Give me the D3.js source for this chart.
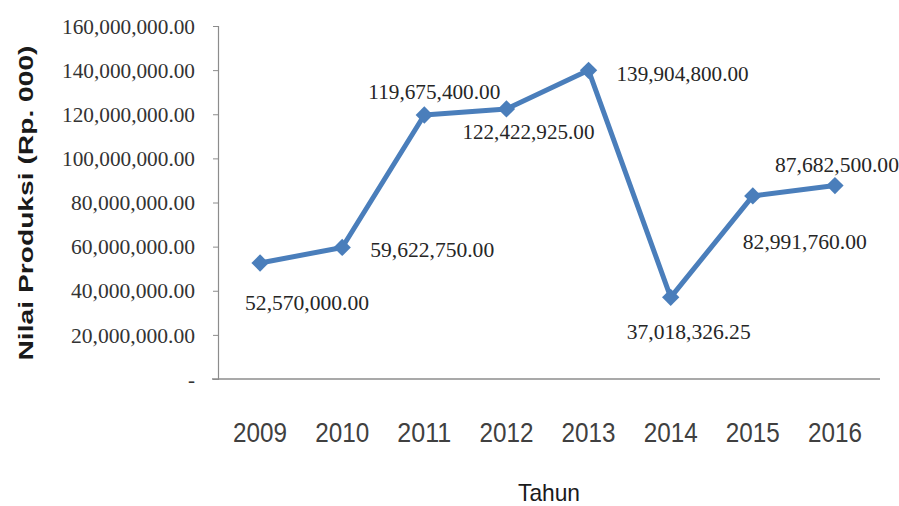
<!DOCTYPE html>
<html>
<head>
<meta charset="utf-8">
<script src="https://cdn.jsdelivr.net/npm/d3@7"></script>
<style>
  html, body { margin: 0; padding: 0; background: #ffffff; }
  svg { display: block; }
</style>
</head>
<body>
<svg id="chart" width="899" height="506"></svg>
<script>
// ---- data ----
const years = ["2009", "2010", "2011", "2012", "2013", "2014", "2015", "2016"];
const values = [52570000.00, 59622750.00, 119675400.00, 122422925.00, 139904800.00, 37018326.25, 82991760.00, 87682500.00];
const yTicks = [0, 20000000, 40000000, 60000000, 80000000, 100000000, 120000000, 140000000, 160000000];
const yTitle = "Nilai Produksi (Rp. 000)";
const xTitle = "Tahun";
// label placement (offset of label start/baseline from its marker)
const labelDx = [-15, 28, -56, -44, 28, -44, -10, -60];
const labelDy = [47, 10, -16, 30, 11, 42, 53, -14];

// ---- layout ----
const svg = d3.select("#chart");
const axisX = 218, yTop = 26, yBottom = 379;
const x = d3.scaleBand().domain(years).range([219, 876]).padding(0);
const y = d3.scaleLinear().domain([0, 160000000]).range([yBottom, yTop]);
const fmt = d3.format(",.2f");
const axisColor = "#8c8c8c";
const lineColor = "#4a7ebb";
const numFont = "'Liberation Serif', 'Times New Roman', serif";
const sansFont = "'Liberation Sans', Arial, sans-serif";

// y axis
const yAxis = d3.axisLeft(y).tickValues(yTicks).tickSize(5).tickPadding(18)
  .tickFormat(d => d === 0 ? "-" : fmt(d));
const gy = svg.append("g").attr("transform", `translate(${axisX},0)`).call(yAxis);
gy.select(".domain").attr("stroke", axisColor).attr("stroke-width", 1.2);
gy.selectAll(".tick line").attr("stroke", axisColor);
gy.selectAll(".tick text")
  .attr("font-family", numFont).attr("font-size", 21).attr("fill", "#333333")
  .attr("dy", "0.34em")
  .each(function(d) {
    if (d !== 0) {
      const n = fmt(d).length;
      d3.select(this).attr("textLength", n === 14 ? 133 : 124).attr("lengthAdjust", "spacingAndGlyphs");
    }
  });

// x axis (line only, labels below)
svg.append("line").attr("x1", 212).attr("x2", 880).attr("y1", yBottom).attr("y2", yBottom)
  .attr("stroke", axisColor).attr("stroke-width", 1.5);
const xAxis = d3.axisBottom(x).tickSize(0).tickPadding(0);
const gx = svg.append("g").attr("transform", `translate(0,${yBottom})`).call(xAxis);
gx.select(".domain").remove();
gx.selectAll(".tick text")
  .attr("font-family", sansFont).attr("font-size", 27).attr("fill", "#404040")
  .attr("y", 63).attr("dy", 0)
  .attr("textLength", 54).attr("lengthAdjust", "spacingAndGlyphs");

// line
const cx = d => x(d) + x.bandwidth() / 2;
const line = d3.line().x((d, i) => cx(years[i])).y(d => y(d));
svg.append("path").datum(values).attr("d", line)
  .attr("fill", "none").attr("stroke", lineColor).attr("stroke-width", 5)
  .attr("stroke-linejoin", "round");

// markers
svg.selectAll(".mk").data(values).enter().append("path")
  .attr("class", "mk")
  .attr("d", d3.symbol(d3.symbolSquare, 150))
  .attr("transform", (d, i) => `translate(${cx(years[i])},${y(d)}) rotate(45)`)
  .attr("fill", lineColor);

// data labels
svg.selectAll(".lbl").data(values).enter().append("text")
  .attr("class", "lbl")
  .attr("x", (d, i) => cx(years[i]) + labelDx[i])
  .attr("y", (d, i) => y(d) + labelDy[i])
  .attr("font-family", numFont).attr("font-size", 21).attr("fill", "#262626")
  .attr("textLength", d => fmt(d).length === 14 ? 132 : 124)
  .attr("lengthAdjust", "spacingAndGlyphs")
  .text(d => fmt(d));

// axis titles
svg.append("text")
  .attr("transform", "translate(33,203) rotate(-90)")
  .attr("text-anchor", "middle")
  .attr("font-family", sansFont).attr("font-weight", "bold")
  .attr("font-size", 21).attr("fill", "#1a1a1a")
  .attr("textLength", 315).attr("lengthAdjust", "spacingAndGlyphs")
  .text(yTitle);
svg.append("text")
  .attr("x", 549).attr("y", 501).attr("text-anchor", "middle")
  .attr("font-family", sansFont).attr("font-size", 24).attr("fill", "#1a1a1a")
  .attr("textLength", 62).attr("lengthAdjust", "spacingAndGlyphs")
  .text(xTitle);
</script>
</body>
</html>
